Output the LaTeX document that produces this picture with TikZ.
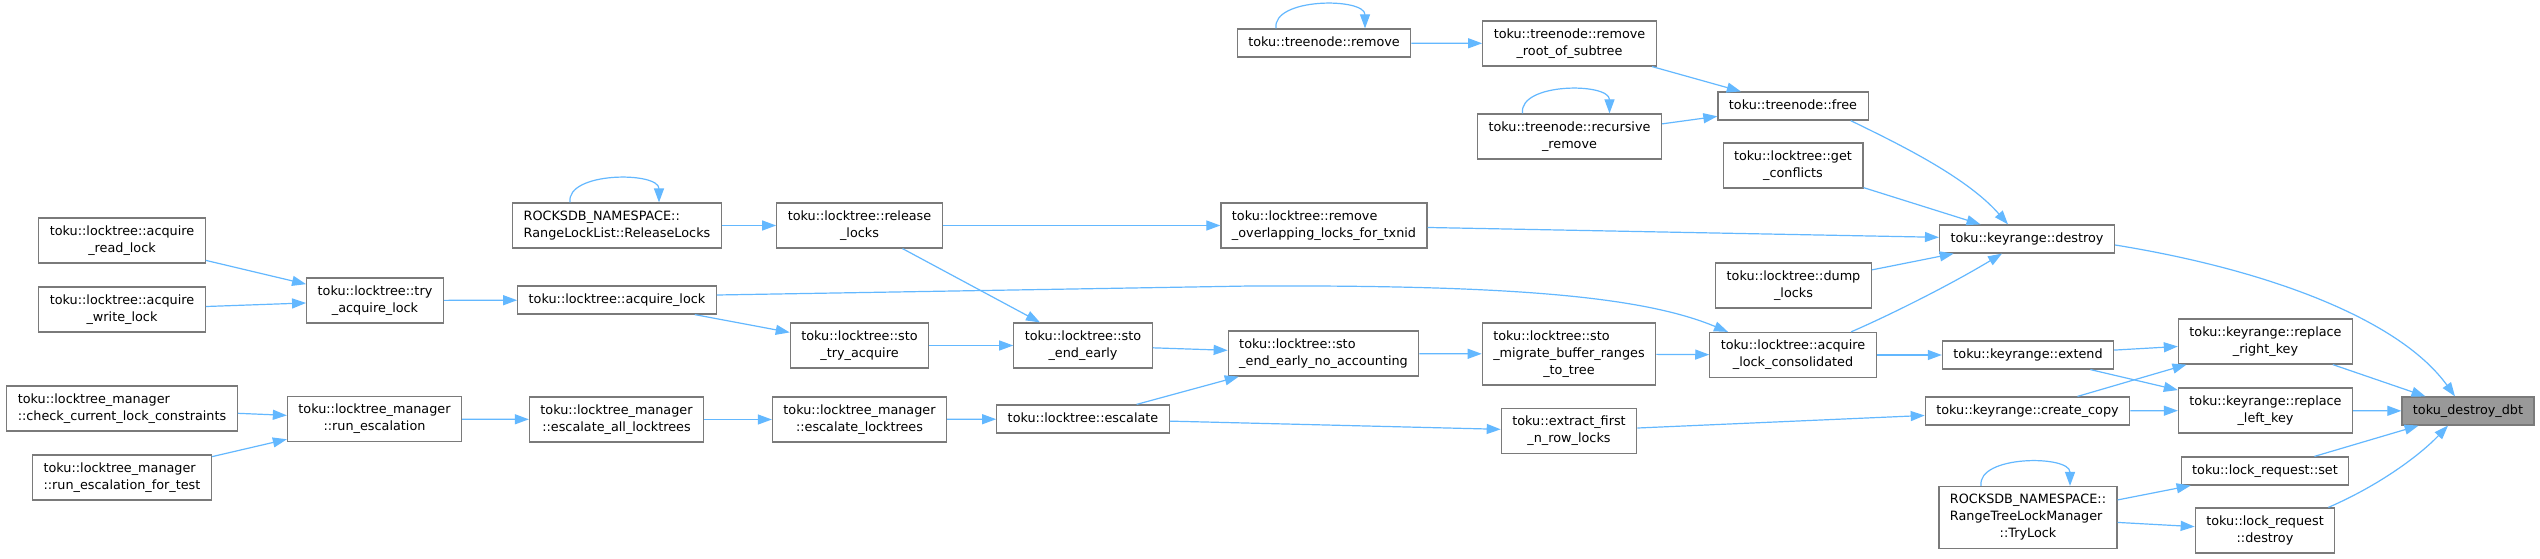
\documentclass[tikz,border=0pt]{standalone}
\usepackage{fontspec}
\setmainfont{DejaVu Sans}
\usepackage{tikz}
\usetikzlibrary{arrows.meta,positioning}

\definecolor{callblue}{HTML}{63B8FF}
\definecolor{boxgray}{HTML}{7A7A7A}
\definecolor{hitgray}{HTML}{999999}

\tikzset{
  fnbase/.style={draw=boxgray, line width=1.2pt, fill=white, inner xsep=11pt, inner ysep=0pt,
    font=\fontsize{12.8}{17}\selectfont},
  fn/.style={fnbase, minimum height=28pt, text height=9.6pt, text depth=3pt},
  fntwo/.style={fnbase, minimum height=45pt, align=center},
  fnthree/.style={fnbase, minimum height=62pt},
  callarrow/.style={draw=callblue, line width=1.2pt, -{Triangle[length=14pt,width=10pt]}}
}

\begin{document}
\begin{tikzpicture}[x=1pt, y=-1pt]
    \useasboundingbox[fill=white] (0,0) rectangle (2540,559);

    \node[fntwo] (rlock) at (122,240.5) {toku::locktree::acquire\\\_read\_lock};
    \node[fntwo] (wlock) at (122,309.5) {toku::locktree::acquire\\\_write\_lock};
    \node[fntwo, align=left] (chkcur) at (122,408.5) {toku::locktree\_manager\\::check\_current\_lock\_constraints};
    \node[fntwo, align=left] (runesct) at (122,477.5) {toku::locktree\_manager\\::run\_escalation\_for\_test};
    \node[fntwo] (tryacq) at (375,300.5) {toku::locktree::try\\\_acquire\_lock};
    \node[fntwo] (runesc) at (374.5,419) {toku::locktree\_manager\\::run\_escalation};

    \node[fntwo, align=left] (rellocks) at (617,225.5) {ROCKSDB\_NAMESPACE::\\RangeLockList::ReleaseLocks};
    \node[fn] (alock) at (617,300) {toku::locktree::acquire\_lock};
    \node[fntwo] (escall) at (616.5,419.5) {toku::locktree\_manager\\::escalate\_all\_locktrees};
    \node[fntwo] (relock) at (859.5,225.5) {toku::locktree::release\\\_locks};
    \node[fntwo] (stotry) at (859.5,345.5) {toku::locktree::sto\\\_try\_acquire};
    \node[fntwo] (esclt) at (859.5,419.5) {toku::locktree\_manager\\::escalate\_locktrees};
    \node[fntwo] (stoend) at (1083,345.5) {toku::locktree::sto\\\_end\_early};
    \node[fn] (escal) at (1083,419) {toku::locktree::escalate};

    \node[fn] (tnrem) at (1324,43) {toku::treenode::remove};
    \node[fntwo, align=left] (rmovl) at (1324,225.5) {toku::locktree::remove\\\_overlapping\_locks\_for\_txnid};
    \node[fntwo, align=left] (stonoacc) at (1323.5,353.5) {toku::locktree::sto\\\_end\_early\_no\_accounting};
    \node[fntwo] (tnroot) at (1569.5,43.5) {toku::treenode::remove\\\_root\_of\_subtree};
    \node[fntwo] (tnrec) at (1569.5,136.5) {toku::treenode::recursive\\\_remove};
    \node[fnthree] (stomig) at (1569,354) {\begin{tabular}{@{}l@{}}toku::locktree::sto\\\_migrate\_buffer\_ranges\\\multicolumn{1}{@{}c@{}}{\_to\_tree}\end{tabular}};
    \node[fntwo] (extract) at (1569,431) {toku::extract\_first\\\_n\_row\_locks};

    \node[fn] (tnfree) at (1793,106) {toku::treenode::free};
    \node[fntwo] (getconf) at (1793,165.5) {toku::locktree::get\\\_conflicts};
    \node[fntwo] (dumplk) at (1793.5,285.5) {toku::locktree::dump\\\_locks};
    \node[fntwo] (conslk) at (1793,355) {toku::locktree::acquire\\\_lock\_consolidated};
    \node[fn] (krdestroy) at (2027,239) {toku::keyrange::destroy};
    \node[fn] (krext) at (2028,355) {toku::keyrange::extend};
    \node[fn] (crcopy) at (2027.5,411) {toku::keyrange::create\_copy};
    \node[fnthree] (trylk) at (2028,517.5) {\begin{tabular}{@{}l@{}}ROCKSDB\_NAMESPACE::\\RangeTreeLockManager\\\multicolumn{1}{@{}c@{}}{::TryLock}\end{tabular}};

    \node[fntwo] (rright) at (2265.5,341.5) {toku::keyrange::replace\\\_right\_key};
    \node[fntwo] (rleft) at (2265.5,410.5) {toku::keyrange::replace\\\_left\_key};
    \node[fn] (lkset) at (2265,471) {toku::lock\_request::set};
    \node[fntwo] (lkdest) at (2265,530.5) {toku::lock\_request\\::destroy};
    \node[fn, fill=hitgray] (dbt) at (2468,411) {toku\_destroy\_dbt};

    \draw[callarrow] (rlock) -- (tryacq);
    \draw[callarrow] (wlock) -- (tryacq);
    \draw[callarrow] (tryacq) -- (alock);
    \draw[callarrow] (chkcur) -- (runesc);
    \draw[callarrow] (runesct) -- (runesc);
    \draw[callarrow] (runesc) -- (escall);
    \draw[callarrow] (escall) -- (esclt);
    \draw[callarrow] (esclt) -- (escal);

    \draw[callarrow] ([xshift=-47pt]rellocks.north) .. controls +(-4,-31) and +(0,-31) .. ([xshift=42pt]rellocks.north);
    \draw[callarrow] (rellocks) -- (relock);
    \draw[callarrow] (relock) -- (rmovl);
    \draw[callarrow] (relock) -- (stoend);
    \draw[callarrow] ([yshift=5pt]alock.east) -- (1250,286) .. controls (1500,285) and (1640,295) .. ([xshift=-65pt]conslk.north);
    \draw[callarrow] (alock) -- (stotry);
    \draw[callarrow] (stotry) -- (stoend);
    \draw[callarrow] (stoend) -- (stonoacc);
    \draw[callarrow] (escal) -- (stonoacc);
    \draw[callarrow] (escal) -- (extract);
    \draw[callarrow] (stonoacc) -- (stomig);
    \draw[callarrow] (stomig) -- (conslk);

    \draw[callarrow] ([xshift=-48pt]tnrem.north) .. controls +(-4,-31) and +(0,-31) .. ([xshift=41pt]tnrem.north);
    \draw[callarrow] ([xshift=-47pt]tnrec.north) .. controls +(-4,-31) and +(0,-31) .. ([xshift=40pt]tnrec.north);
    \draw[callarrow] (tnrem) -- (tnroot);
    \draw[callarrow] (tnroot) -- (tnfree);
    \draw[callarrow] (tnrec) -- (tnfree);
    \draw[callarrow] ([xshift=-18pt]tnfree.south east) .. controls (1890,140) and (1965,175) .. ([xshift=-19pt]krdestroy.north);
    \draw[callarrow] (rmovl) -- (krdestroy);
    \draw[callarrow] (getconf) -- (krdestroy);
    \draw[callarrow] (dumplk) -- (krdestroy);
    \draw[callarrow] ([xshift=58pt]conslk.north) .. controls (1890,315) and (1950,285) .. ([xshift=-25pt]krdestroy.south);
    \draw[callarrow] (conslk) -- (krext);
    \draw[callarrow] (krext) -- (rright);
    \draw[callarrow] (krext) -- (rleft);
    \draw[callarrow] (crcopy) -- (rright);
    \draw[callarrow] (crcopy) -- (rleft);
    \draw[callarrow] (extract) -- (crcopy);

    \draw[callarrow] ([xshift=-47pt]trylk.north) .. controls +(-4,-31) and +(0,-31) .. ([xshift=42pt]trylk.north);
    \draw[callarrow] (trylk) -- (lkset);
    \draw[callarrow] (trylk) -- (lkdest);
    \draw[callarrow] ([yshift=-6pt]krdestroy.east) .. controls (2270,270) and (2400,320) .. ([xshift=-13pt]dbt.north);
    \draw[callarrow] (rright) -- (dbt);
    \draw[callarrow] (rleft) -- (dbt);
    \draw[callarrow] (lkset) -- (dbt);
    \draw[callarrow] ([xshift=-7pt]lkdest.north east) .. controls (2380,485) and (2420,455) .. ([xshift=-20pt]dbt.south);
\end{tikzpicture}
\end{document}
